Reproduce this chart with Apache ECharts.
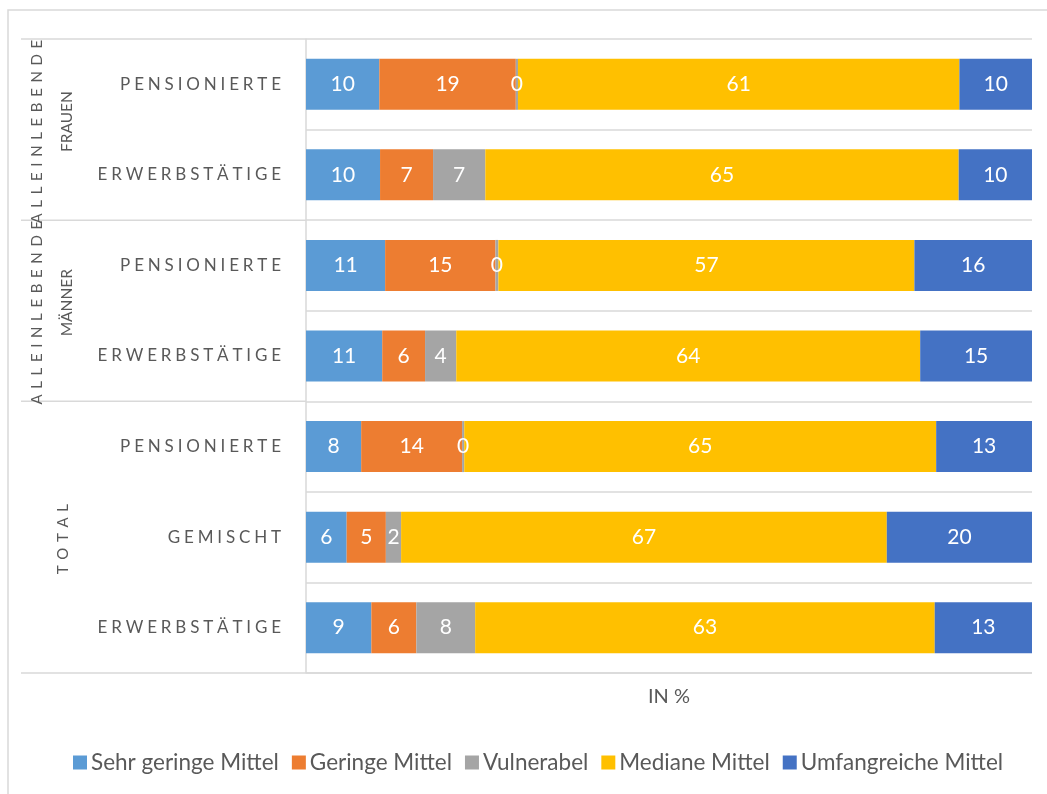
<!DOCTYPE html>
<html>
<head>
<meta charset="utf-8">
<script src="https://cdn.jsdelivr.net/npm/echarts@6/dist/echarts.min.js"></script>
<style>
  html, body { margin: 0; padding: 0; background: #fff; }
  #main { width: 1047px; height: 794px; }
</style>
</head>
<body>
<div id="main"></div>
<script>
const categories = ["PENSIONIERTE", "ERWERBSTÄTIGE", "PENSIONIERTE", "ERWERBSTÄTIGE", "PENSIONIERTE", "GEMISCHT", "ERWERBSTÄTIGE"];
const groupLines = [["ALLEINLEBENDE", "FRAUEN"], ["ALLEINLEBENDE", "MÄNNER"], ["TOTAL"]];
const groupSizes = [2, 2, 3];
const seriesNames = ["Sehr geringe Mittel", "Geringe Mittel", "Vulnerabel", "Mediane Mittel", "Umfangreiche Mittel"];
// shares in %, one value per category row
const sehrGering = [10.1, 10.2, 10.9, 10.5, 7.6, 5.6, 9.0];
const gering = [18.8, 7.3, 15.2, 5.9, 13.9, 5.4, 6.2];
const vulnerabel = [0.3, 7.2, 0.4, 4.3, 0.3, 2.1, 8.1];
const mediane = [60.8, 65.2, 57.3, 63.9, 65.0, 66.9, 63.3];
const umfangreich = [10.0, 10.1, 16.2, 15.4, 13.2, 20.0, 13.4];
const colors = ["#5B9BD5", "#ED7D31", "#A5A5A5", "#FFC000", "#4472C4"];

const FONT = "Lato, 'Open Sans', sans-serif";
const GREY_TEXT = "#595959";
const LINE = "#d9d9d9";

// letter spacing through a rich-text spacer between the letters
function spaced(str, cls) {
  return str.split("").join("{" + cls + "| }");
}

const chartDom = document.getElementById("main");
const myChart = echarts.init(chartDom);

const allValues = [sehrGering, gering, vulnerabel, mediane, umfangreich];
const seriesList = allValues.map((vals, i) => ({
  name: seriesNames[i],
  type: "bar",
  stack: "total",
  barWidth: 51,
  itemStyle: { color: colors[i] },
  label: {
    show: true,
    position: "inside",
    color: "#fff",
    fontFamily: FONT,
    fontSize: 21,
    formatter: (p) => Math.round(p.value),
  },
  emphasis: { disabled: true },
  data: vals,
}));

const option = {
  animation: false,
  color: colors,
  grid: { left: 306, right: 15, top: 39, bottom: 121 },
  legend: {
    data: seriesNames,
    left: 73,
    top: 751,
    padding: 0,
    icon: "rect",
    itemWidth: 14,
    itemHeight: 14,
    itemGap: 13,
    textStyle: { color: GREY_TEXT, fontFamily: FONT, fontSize: 22.5, padding: [0, 0, 0, -1] },
  },
  xAxis: {
    type: "value",
    min: 0,
    max: 100,
    axisLine: { show: false },
    axisTick: { show: false },
    axisLabel: { show: false },
    splitLine: { show: false },
    name: "IN %",
    nameLocation: "middle",
    nameGap: 14,
    nameTextStyle: { color: GREY_TEXT, fontFamily: FONT, fontSize: 20 },
  },
  yAxis: {
    type: "category",
    inverse: true,
    data: categories,
    axisLine: { show: true, lineStyle: { color: LINE, width: 1.5 } },
    axisTick: { show: false },
    splitLine: { show: true, lineStyle: { color: LINE, width: 1.5 } },
    axisLabel: {
      margin: 25,
      color: GREY_TEXT,
      fontFamily: FONT,
      fontSize: 17,
      formatter: (v) => spaced(v, "s"),
      rich: { s: { fontSize: 15, fontFamily: FONT } },
    },
  },
  series: seriesList,
};
myChart.setOption(option);

// left-hand group column: lines and rotated group labels placed from the category scale
const c0 = myChart.convertToPixel({ yAxisIndex: 0 }, 0);
const c1 = myChart.convertToPixel({ yAxisIndex: 0 }, 1);
const band = c1 - c0;
const top0 = c0 - band / 2;
const axisX = myChart.convertToPixel({ xAxisIndex: 0 }, 0);
const rightX = myChart.convertToPixel({ xAxisIndex: 0 }, 100);
const leftX = 21;

const graphics = [
  { type: "rect", silent: true, shape: { x: 8, y: 10, width: 1100, height: 900 }, style: { fill: null, stroke: LINE, lineWidth: 1.5 } },
  { type: "line", silent: true, shape: { x1: leftX, y1: top0, x2: axisX, y2: top0 }, style: { stroke: LINE, lineWidth: 1.5 } },
];
let start = 0;
groupSizes.forEach((n, g) => {
  const yTop = top0 + start * band;
  const yBot = yTop + n * band;
  const yMid = (yTop + yBot) / 2;
  graphics.push({ type: "line", silent: true, shape: { x1: leftX, y1: yBot, x2: g === groupSizes.length - 1 ? rightX : axisX, y2: yBot }, style: { stroke: LINE, lineWidth: 1.5 } });
  const lines = groupLines[g];
  const xs = lines.length === 2 ? [37, 67] : [63];
  lines.forEach((t, k) => {
    const wide = t === "ALLEINLEBENDE" || t === "TOTAL";
    graphics.push({
      type: "text",
      silent: true,
      x: xs[k],
      y: wide ? yMid + 2 : yMid - 8,
      rotation: Math.PI / 2,
      style: {
        text: wide ? spaced(t, "w") : t,
        fill: GREY_TEXT,
        fontFamily: FONT,
        fontSize: wide ? 15 : 15.5,
        align: "center",
        verticalAlign: "middle",
        rich: { w: { fontSize: 22, fontFamily: FONT } },
      },
    });
  });
  start += n;
});
myChart.setOption({ graphic: graphics });
</script>
</body>
</html>
